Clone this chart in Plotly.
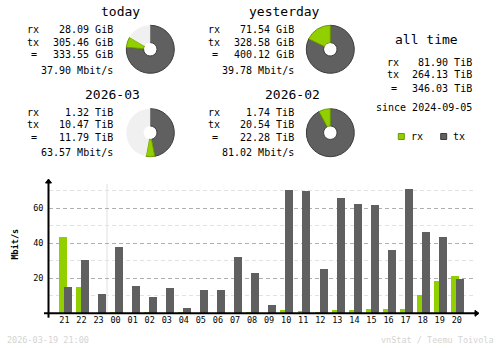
import plotly.graph_objects as go

W, H = 500, 348

# ---- traffic summary data ----
hours = ["21", "22", "23", "00", "01", "02", "03", "04", "05", "06", "07", "08",
         "09", "10", "11", "12", "13", "14", "15", "16", "17", "18", "19", "20"]
rx_mbit = [43.6, 15.0, 0.0, 0.7, 0.0, 0.7, 0.0, 0.7, 0.0, 0.0, 0.0, 0.7,
           0.0, 1.9, 1.3, 0.8, 1.9, 1.9, 2.5, 2.5, 2.5, 10.5, 18.5, 21.3]
tx_mbit = [15.0, 30.5, 11.0, 37.9, 15.6, 9.5, 14.5, 3.0, 13.3, 13.3, 32.2, 23.0,
           4.8, 70.5, 69.9, 25.3, 65.9, 62.5, 61.9, 36.2, 71.0, 46.5, 43.6, 19.6]

period_names = ["today", "yesterday", "2026-03", "2026-02"]
period_units = ["GiB", "GiB", "TiB", "TiB"]
period_rx = [28.09, 71.54, 1.32, 1.74]
period_tx = [305.46, 328.58, 10.47, 20.54]
period_total = [333.55, 400.12, 11.79, 22.28]
period_rate = ["37.90 Mbit/s", "39.78 Mbit/s", "63.57 Mbit/s", "81.02 Mbit/s"]

alltime_rx, alltime_tx, alltime_total = 81.90, 264.13, 346.03
alltime_since = "2024-09-05"
stamp = "2026-03-19 21:00"

# ---- styling ----
C_RX = "#92CF00"
C_RX_D = "#6A9A00"
C_TX = "#606060"
C_TX_D = "#3C3C3C"
C_PIEBG = "#F0F0F0"
C_LINE = "#B0B0B0"
C_LINE_L = "#E2E2E2"
C_FOOT = "#D4D4D4"
MONO = "DejaVu Sans Mono"


def px(x):
    return x / W


def py(y):
    return 1 - y / H


fig = go.Figure()
ann = []
shapes = []


def text(x, y, s, size=10, anchor="left", color="black", bold=False, angle=0):
    ann.append(dict(
        x=px(x), y=py(y), xref="paper", yref="paper", text=f"<b>{s}</b>" if bold else s,
        showarrow=False, xanchor=anchor, yanchor="middle", textangle=angle,
        font=dict(family=MONO, size=size, color=color)))


# ---- summary blocks with donuts ----
blocks = [
    # title right x, title y, label x, value right x, row y list, donut center
    (141.7, 12, 25, 115, [29.5, 42, 54.5, 70], (150.3, 49.3)),
    (321.7, 12, 206, 295.7, [29.5, 42, 54.5, 70], (330.3, 49.3)),
    (141.7, 94.5, 25, 115, [112, 124.5, 137, 152.5], (150.3, 132.7)),
    (321.7, 94.5, 206, 295.7, [112, 124.5, 137, 152.5], (330.3, 132.7)),
]
pairs = [(0, 1), (0, 1), (2, 3), (2, 3)]
R = 24
for i, (tr, ty, lx, vr, rows, (cx, cy)) in enumerate(blocks):
    u = period_units[i]
    text(tr, ty, period_names[i], size=13, anchor="right")
    text(lx, rows[0], "rx")
    text(lx, rows[1], "tx")
    text(lx + 9, rows[2], "=", anchor="center")
    text(vr, rows[0], f"{period_rx[i]:.2f} {u}", anchor="right")
    text(vr, rows[1], f"{period_tx[i]:.2f} {u}", anchor="right")
    text(vr, rows[2], f"{period_total[i]:.2f} {u}", anchor="right")
    text(vr, rows[3], period_rate[i], anchor="right")

    ref = max(period_total[j] for j in pairs[i])
    rest = max(ref - period_rx[i] - period_tx[i], 0)
    fig.add_trace(go.Pie(
        values=[period_tx[i], period_rx[i], rest],
        labels=["tx", "rx", "-"],
        sort=False, direction="clockwise", rotation=0, hole=0.28,
        textinfo="none", hoverinfo="skip", showlegend=False,
        marker=dict(colors=[C_TX, C_RX, C_PIEBG],
                    line=dict(color=[C_TX_D, C_RX_D, C_PIEBG], width=[1, 1, 0])),
        domain=dict(x=[px(cx - R), px(cx + R)], y=[py(cy + R), py(cy - R)]),
    ))

# ---- all time block ----
text(460, 39.5, "all time", size=13, anchor="right")
text(385, 62.5, "rx")
text(385, 75, "tx")
text(394, 88, "=", anchor="center")
text(474.3, 62.5, f"{alltime_rx:.2f} TiB", anchor="right")
text(474.3, 75, f"{alltime_tx:.2f} TiB", anchor="right")
text(474.3, 88, f"{alltime_total:.2f} TiB", anchor="right")
text(474.3, 107.5, f"since {alltime_since}", anchor="right")

# legend keys
for x0, fill, edge, lab in [(398.3, C_RX, C_RX_D, "rx"), (440.7, C_TX, C_TX_D, "tx")]:
    shapes.append(dict(type="rect", xref="paper", yref="paper",
                       x0=px(x0), x1=px(x0 + 6), y0=py(139.5), y1=py(133.5),
                       fillcolor=fill, line=dict(color=edge, width=1)))
    text(x0 + 10.5, 136.5, lab)

# ---- hourly bar chart ----
X_LEFT, X_RIGHT = 48.5, 472.7
Y_ZERO, Y_TOP = 313.3, 180.0
SLOT = 17.06
FIRST = 64.4
PX_PER_MBIT = 1.75
xr = [(X_LEFT - FIRST) / SLOT, (X_RIGHT - FIRST) / SLOT]
yr = [0, (Y_ZERO - Y_TOP) / PX_PER_MBIT]
idx = list(range(len(hours)))

fig.add_trace(go.Bar(x=idx, y=rx_mbit, marker=dict(color=C_RX, line=dict(width=0)),
                     width=8 / SLOT, offset=-6.2 / SLOT, showlegend=False, hoverinfo="skip"))
fig.add_trace(go.Bar(x=idx, y=tx_mbit, marker=dict(color=C_TX, line=dict(width=0)),
                     width=8 / SLOT, offset=-1.3 / SLOT, showlegend=False, hoverinfo="skip"))

# day boundary between 23 and 00
shapes.append(dict(type="line", xref="x", yref="y", x0=2.5, x1=2.5, y0=0, y1=73.9,
                   line=dict(color="#E0E0E0", width=1), layer="below"))

# axis lines with arrow heads
shapes.append(dict(type="line", xref="paper", yref="paper", x0=px(44), x1=px(477),
                   y0=py(Y_ZERO), y1=py(Y_ZERO), line=dict(color="black", width=2)))
shapes.append(dict(type="line", xref="paper", yref="paper", x0=px(X_LEFT), x1=px(X_LEFT),
                   y0=py(317.7), y1=py(Y_TOP), line=dict(color="black", width=2)))
shapes.append(dict(type="path", xref="paper", yref="paper",
                   path=f"M {px(475)} {py(Y_ZERO - 3)} L {px(479)} {py(Y_ZERO)} L {px(475)} {py(Y_ZERO + 3)} Z",
                   fillcolor="black", line=dict(color="black", width=1)))
shapes.append(dict(type="path", xref="paper", yref="paper",
                   path=f"M {px(X_LEFT - 3)} {py(Y_TOP + 3)} L {px(X_LEFT)} {py(Y_TOP - 1)} L {px(X_LEFT + 3)} {py(Y_TOP + 3)} Z",
                   fillcolor="black", line=dict(color="black", width=1)))

text(14.5, 244, "Mbit/s", size=8.5, anchor="center", bold=True, angle=-90)

# footer
text(5, 340, stamp, size=8.5, color=C_FOOT)
text(496, 340, "vnStat / Teemu Toivola", size=8.5, color=C_FOOT, anchor="right")

fig.update_layout(
    width=W, height=H,
    margin=dict(l=0, r=0, t=0, b=0),
    paper_bgcolor="white", plot_bgcolor="white",
    barmode="overlay", bargap=0,
    annotations=ann, shapes=shapes,
    xaxis=dict(domain=[px(X_LEFT), px(X_RIGHT)], range=xr, tickvals=idx, ticktext=hours,
               showgrid=False, zeroline=False, showline=False, ticks="",
               tickfont=dict(family=MONO, size=8.5, color="black"), anchor="y",
               fixedrange=True),
    yaxis=dict(domain=[py(Y_ZERO), py(Y_TOP)], range=yr, tickvals=[20, 40, 60],
               showgrid=True, gridcolor=C_LINE, griddash="4px,3px", gridwidth=1,
               minor=dict(tickvals=[10, 30, 50, 70], showgrid=True, gridcolor=C_LINE_L,
                          griddash="4px,3px", gridwidth=1),
               zeroline=False, showline=False, ticks="", ticklabelstandoff=4,
               tickfont=dict(family=MONO, size=8.5, color="black"), anchor="x",
               fixedrange=True),
)

fig.write_html("out.html")
